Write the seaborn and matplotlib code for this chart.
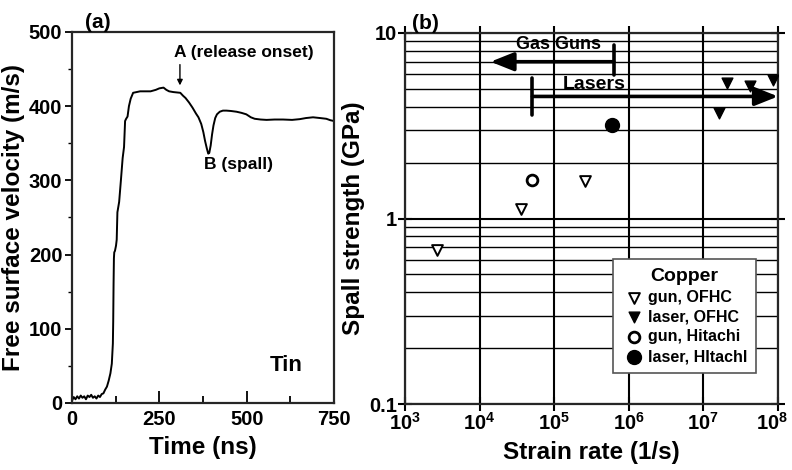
import numpy as np
import pandas as pd
import matplotlib
matplotlib.use("Agg")
import matplotlib.pyplot as plt
import matplotlib.transforms as mtransforms
import seaborn as sns
from matplotlib.ticker import FixedLocator, NullLocator, FixedFormatter, LogLocator, NullFormatter

# ---------------- data: panel (a) ----------------
time_ns = [0, 5, 10, 15, 20, 25, 30, 35, 40, 45, 50, 55, 60, 65, 70, 75, 80, 85, 90, 95,
           100, 105, 110, 114, 117, 118, 119, 120, 121, 123, 126, 128, 130, 135, 140, 145,
           149, 152, 155, 159, 163, 168, 175, 185, 195, 210, 225, 240, 250, 262, 270, 278,
           290, 300, 310, 318, 325, 335, 345, 355, 362, 370, 376, 381, 386, 390, 393, 397,
           401, 405, 410, 415, 423, 432, 442, 455, 471, 485, 499, 512, 523, 540, 557, 580,
           604, 630, 652, 670, 690, 710, 728, 740, 750]
velocity = [3, 8, 5, 9, 6, 10, 7, 9, 5, 10, 8, 11, 7, 9, 6, 10, 8, 12, 13, 18,
            22, 30, 40, 53, 80, 110, 160, 195, 203, 205, 212, 220, 257, 271, 300, 330,
            345, 380, 383, 386, 400, 410, 418, 419, 420, 420, 420, 422, 424, 425, 422, 420,
            419, 418.5, 418, 414, 411, 405, 398, 390, 385, 376, 365, 353, 343, 336, 337, 347,
            362, 374, 384, 389, 392.5, 394, 394, 393.5, 392.5, 391, 389, 385, 383, 382, 381.5, 382,
            382, 381.5, 382.5, 384, 385, 384, 383, 381, 380]

x_ticks_a = [0, 250, 500, 750]
y_ticks_a = [0, 100, 200, 300, 400, 500]

# ---------------- data: panel (b) ----------------
gun_ofhc_rate = [2.7e3, 3.6e4, 2.6e5]
gun_ofhc_spall = [0.68, 1.13, 1.59]
laser_ofhc_rate = [1.6e7, 2.1e7, 4.2e7, 8.7e7]
laser_ofhc_spall = [3.7, 5.4, 5.15, 5.6]
gun_hitachi_rate = [5.1e4]
gun_hitachi_spall = [1.61]
laser_hitachi_rate = [6.0e5]
laser_hitachi_spall = [3.19]

gas_gun_range = [6.3e5, 1.4e4]      # strain-rate span of the gas-gun arrow
gas_gun_level = 7.0
gas_gun_bar = [5.95, 8.6]
laser_range = [5.1e4, 1.0e8]
laser_level = 4.55
laser_bar = [3.6, 5.7]

x_ticks_b = [1e3, 1e4, 1e5, 1e6, 1e7, 1e8]
x_labels_b = [r"$10^{3}$", r"$10^{4}$", r"$10^{5}$", r"$10^{6}$", r"$10^{7}$", r"$10^{8}$"]
y_ticks_b = [0.1, 1, 10]
y_labels_b = ["0.1", "1", "10"]

# ---------------- style ----------------
sns.set_theme(style="ticks")
plt.rcParams["font.family"] = ["Liberation Sans", "DejaVu Sans"]
plt.rcParams["font.weight"] = "bold"
plt.rcParams["mathtext.fontset"] = "custom"
plt.rcParams["mathtext.rm"] = "Liberation Sans:bold"
plt.rcParams["mathtext.it"] = "Liberation Sans:bold"
plt.rcParams["mathtext.bf"] = "Liberation Sans:bold"
plt.rcParams["mathtext.default"] = "rm"
plt.rcParams["axes.linewidth"] = 1.6
plt.rcParams["text.color"] = "black"
plt.rcParams["axes.labelcolor"] = "black"
plt.rcParams["xtick.color"] = "black"
plt.rcParams["ytick.color"] = "black"

fig = plt.figure(figsize=(7.92, 4.70), dpi=100)
ax1 = fig.add_axes([0.0909, 0.1426, 0.3308, 0.7894])
ax2 = fig.add_axes([0.5114, 0.1404, 0.4709, 0.7894])

TICK_FS = 14.5
LABEL_FS = 17.5

# ---------------- panel (a) ----------------
df_a = pd.DataFrame({"t": time_ns, "v": velocity})
sns.lineplot(data=df_a, x="t", y="v", ax=ax1, color="black", lw=1.4,
             sort=False, estimator=None)
ax1.set_xlim(0, 750)
ax1.set_ylim(0, 500)
ax1.xaxis.set_major_locator(FixedLocator(x_ticks_a))
ax1.xaxis.set_minor_locator(FixedLocator([125, 375, 625]))
ax1.yaxis.set_major_locator(FixedLocator(y_ticks_a))
ax1.yaxis.set_minor_locator(FixedLocator([50, 150, 250, 350, 450]))
ax1.tick_params(axis="x", which="major", direction="in", length=9, width=1.3,
                labelsize=TICK_FS, pad=5)
ax1.tick_params(axis="x", which="minor", direction="in", length=5, width=1.3)
ax1.tick_params(axis="y", which="major", direction="out", length=5, width=1.3,
                labelsize=TICK_FS, pad=2)
ax1.tick_params(axis="y", which="minor", direction="out", length=3, width=1.0)
for lab in ax1.get_xticklabels() + ax1.get_yticklabels():
    lab.set_fontweight("bold")
ax1.set_xlabel("Time (ns)", fontsize=LABEL_FS, fontweight="bold", labelpad=5)
ax1.set_ylabel("Free surface velocity (m/s)", fontsize=LABEL_FS, fontweight="bold", labelpad=3)
for s in ax1.spines.values():
    s.set_visible(True)
    s.set_linewidth(1.6)

ax1.annotate("", xy=(309, 428), xytext=(309, 456),
             arrowprops=dict(arrowstyle="-|>", color="black", lw=1.0,
                             mutation_scale=8, shrinkA=0, shrinkB=0))
ax1.text(293, 472, "A (release onset)", fontsize=12.5, fontweight="bold",
         ha="left", va="center")
ax1.text(378, 321, "B (spall)", fontsize=12.5, fontweight="bold",
         ha="left", va="center")
ax1.text(612, 51, "Tin", fontsize=16, fontweight="bold", ha="center", va="center")
ax1.text(0.05, 1.0, "(a)", transform=ax1.transAxes, fontsize=15, fontweight="bold",
         ha="left", va="bottom")

# ---------------- panel (b) ----------------
ax2.set_xscale("log")
ax2.set_yscale("log")
ax2.set_xlim(1e3, 1e8)
ax2.set_ylim(0.1, 10)

ax2.yaxis.set_minor_locator(LogLocator(base=10, subs=np.arange(2, 10)))
ax2.yaxis.set_minor_formatter(NullFormatter())
ax2.xaxis.set_minor_locator(NullLocator())
ax2.grid(True, which="major", axis="both", color="black", lw=1.5)
ax2.grid(True, which="minor", axis="y", color="black", lw=1.0)
ax2.set_axisbelow(True)

ax2.xaxis.set_major_locator(FixedLocator(x_ticks_b))
ax2.xaxis.set_major_formatter(FixedFormatter(x_labels_b))
ax2.yaxis.set_major_locator(FixedLocator(y_ticks_b))
ax2.yaxis.set_major_formatter(FixedFormatter(y_labels_b))
ax2.tick_params(axis="both", which="major", direction="inout", length=10, width=1.5,
                labelsize=TICK_FS, top=True, right=True, pad=1)
ax2.tick_params(axis="y", which="minor", length=0)
for lab in ax2.get_xticklabels() + ax2.get_yticklabels():
    lab.set_fontweight("bold")
for s in ax2.spines.values():
    s.set_visible(True)
    s.set_linewidth(1.6)
# keep the last x tick label inside the figure
last_lab = ax2.get_xticklabels()[-1]
last_lab.set_transform(last_lab.get_transform() +
                       mtransforms.ScaledTranslation(-4 / 72, 0, fig.dpi_scale_trans))

ms = 60
sns.scatterplot(x=gun_ofhc_rate, y=gun_ofhc_spall, ax=ax2, marker="v", s=ms,
                color="white", edgecolor="black", linewidth=1.4, label="gun, OFHC", zorder=5)
sns.scatterplot(x=laser_ofhc_rate, y=laser_ofhc_spall, ax=ax2, marker="v", s=ms,
                color="black", edgecolor="black", linewidth=1.0, label="laser, OFHC", zorder=5)
sns.scatterplot(x=gun_hitachi_rate, y=gun_hitachi_spall, ax=ax2, marker="o", s=ms,
                color="white", edgecolor="black", linewidth=2.0, label="gun, Hitachi", zorder=5)
sns.scatterplot(x=laser_hitachi_rate, y=laser_hitachi_spall, ax=ax2, marker="o", s=100,
                color="black", edgecolor="black", linewidth=1.0, label="laser, HItachl", zorder=5)

arrow_kw = dict(arrowstyle="-|>,head_length=1.0,head_width=0.4", color="black",
                lw=2.6, mutation_scale=14, shrinkA=0, shrinkB=0)
ax2.annotate("", xy=(gas_gun_range[1], gas_gun_level), xytext=(gas_gun_range[0], gas_gun_level),
             arrowprops=arrow_kw, zorder=6)
ax2.plot([gas_gun_range[0], gas_gun_range[0]], gas_gun_bar, color="black", lw=2.6, zorder=6)
ax2.text(1.15e5, 8.7, "Gas Guns", fontsize=13, fontweight="bold", ha="center", va="center",
         zorder=7)
ax2.annotate("", xy=(laser_range[1], laser_level), xytext=(laser_range[0], laser_level),
             arrowprops=arrow_kw, zorder=6)
ax2.plot([laser_range[0], laser_range[0]], laser_bar, color="black", lw=2.6, zorder=6)
ax2.text(3.4e5, 5.3, "Lasers", fontsize=14, fontweight="bold", ha="center", va="center",
         zorder=7)

ax2.set_xlabel("Strain rate (1/s)", fontsize=LABEL_FS, fontweight="bold", labelpad=5)
ax2.set_ylabel("Spall strength (GPa)", fontsize=LABEL_FS, fontweight="bold", labelpad=3)
ax2.text(0.02, 1.0, "(b)", transform=ax2.transAxes, fontsize=15, fontweight="bold",
         ha="left", va="bottom")

leg = ax2.legend(loc="lower right", bbox_to_anchor=(0.962, 0.062), title="Copper",
                 frameon=True, fancybox=False, edgecolor="#555555", framealpha=1,
                 prop={"weight": "bold", "size": 11.5}, handletextpad=0.1,
                 borderpad=0.55, labelspacing=0.3, handlelength=1.5)
leg.get_title().set_fontweight("bold")
leg.get_title().set_fontsize(14)
leg.get_frame().set_linewidth(1.2)
leg.set_zorder(10)

fig.savefig("out.png", dpi=100)
